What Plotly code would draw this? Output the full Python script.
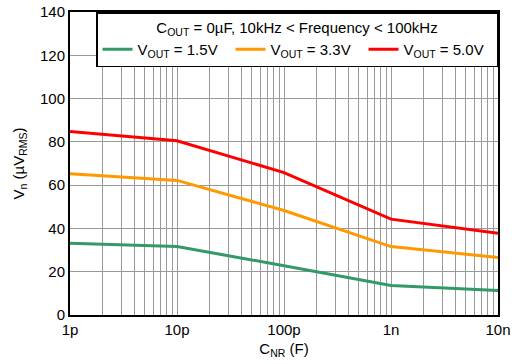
import plotly.graph_objects as go

# Data
cnr = [1e-12, 1e-11, 1e-10, 1e-9, 1e-8]
vn_15 = [33.1, 31.6, 22.8, 13.6, 11.3]
vn_33 = [65.3, 62.2, 48.3, 31.6, 26.6]
vn_50 = [84.8, 80.5, 65.8, 44.3, 37.8]

series_names = ["V<sub>OUT</sub> = 1.5V", "V<sub>OUT</sub> = 3.3V", "V<sub>OUT</sub> = 5.0V"]
series_colors = ["#339966", "#FF9900", "#FF0000"]

major_vals = [1e-12, 1e-11, 1e-10, 1e-9, 1e-8]
major_text = ["1p", "10p", "100p", "1n", "10n"]
y_ticks = [0, 20, 40, 60, 80, 100, 120, 140]

# minor grid positions (2..9 within each decade)
minor_vals = [d * m for d in major_vals[:-1] for m in range(2, 10)]

fig = go.Figure()
for ys, name, col in zip([vn_15, vn_33, vn_50], series_names, series_colors):
    fig.add_trace(go.Scatter(x=cnr, y=ys, mode="lines", name=name,
                             line=dict(color=col, width=3)))

font_family = "Liberation Sans, Arial, sans-serif"
fig.update_layout(
    width=514, height=364,
    margin=dict(l=70, r=16, t=12, b=49, autoexpand=False),
    paper_bgcolor="white", plot_bgcolor="white",
    font=dict(family=font_family, size=15, color="black"),
    showlegend=True,
    legend=dict(
        orientation="h", x=1, xanchor="right", y=1, yanchor="top",
        bgcolor="white", bordercolor="black", borderwidth=1.5,
        font=dict(size=15), entrywidth=88, entrywidthmode="pixels",
        title=dict(text="C<sub>OUT</sub> = 0µF, 10kHz < Frequency < 100kHz",
                   side="top center", font=dict(size=15)),
        itemwidth=30, tracegroupgap=0,
    ),
    xaxis=dict(
        type="log", range=[-12, -8], automargin=False,
        tickmode="array", tickvals=major_vals, ticktext=major_text,
        showgrid=True, gridcolor="#999999", gridwidth=1,
        minor=dict(tickmode="array", tickvals=minor_vals, showgrid=True,
                   gridcolor="#999999", gridwidth=1, ticks=""),
        showline=True, linecolor="black", linewidth=2, mirror=True,
        ticks="", tickfont=dict(size=15),
        title=dict(text="C<sub>NR</sub> (F)", font=dict(size=15), standoff=6),
        zeroline=False,
    ),
    yaxis=dict(
        range=[0, 140], tickvals=y_ticks, automargin=False,
        showgrid=True, gridcolor="#999999", gridwidth=1,
        showline=True, linecolor="black", linewidth=2, mirror=True,
        ticks="", tickfont=dict(size=15),
        title=dict(text="V<sub>n</sub> (µV<sub>RMS</sub>)", font=dict(size=15), standoff=12),
        zeroline=False,
    ),
)

fig.write_html("out.html", config={"displayModeBar": False},
               post_script="document.body.style.margin='0';")
